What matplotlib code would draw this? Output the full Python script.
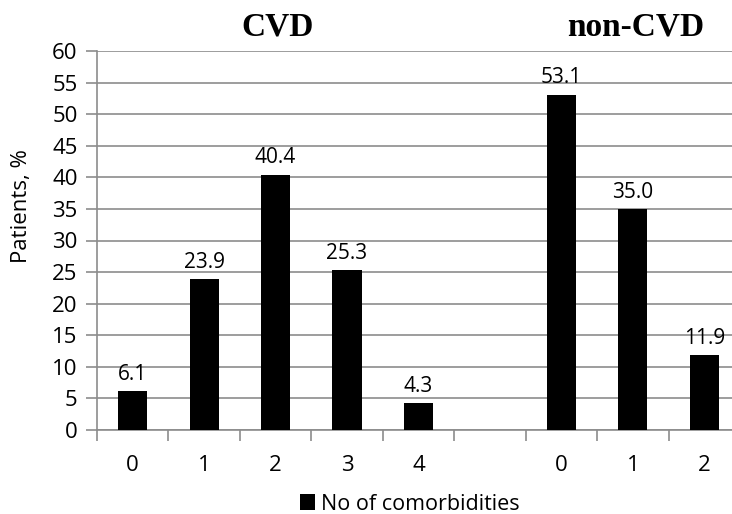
import matplotlib
matplotlib.use('Agg')
import matplotlib.pyplot as plt

# data
cvd_labels = ['0', '1', '2', '3', '4']
cvd_values = [6.1, 23.9, 40.4, 25.3, 4.3]
noncvd_labels = ['0', '1', '2']
noncvd_values = [53.1, 35.0, 11.9]

plt.rcParams['font.family'] = ['Open Sans', 'DejaVu Sans']

W, H = 732, 514
fig = plt.figure(figsize=(W / 100, H / 100), dpi=100)
# plot area runs past the right edge of the picture, as in the original
left, right, top, bottom = 97, 740, 51, 430
ax = fig.add_axes([left / W, (H - bottom) / H, (right - left) / W, (bottom - top) / H])

x_cvd = list(range(len(cvd_values)))
x_non = [len(cvd_values) + 1 + i for i in range(len(noncvd_values))]
xs = x_cvd + x_non
vals = cvd_values + noncvd_values
labels = cvd_labels + noncvd_labels

bars = ax.bar(xs, vals, width=0.41, color='black', zorder=3, label='No of comorbidities')
for x, v in zip(xs, vals):
    ax.text(x, v + 1.0, f'{v:.1f}', ha='center', va='bottom', fontsize=15, zorder=4)

ax.set_xlim(-0.5, len(xs) + 0.5)
ax.set_ylim(0, 60)
ax.set_yticks(range(0, 61, 5))
ax.tick_params(axis='y', labelsize=16, length=8, color='#8c8c8c', width=1.2, pad=6)
ax.yaxis.grid(True, color='#8c8c8c', linewidth=1.2, zorder=0)

ax.set_xticks(xs)
ax.set_xticklabels(labels)
ax.set_xticks([i - 0.5 for i in range(len(xs) + 2)], minor=True)
ax.tick_params(axis='x', which='major', length=0, labelsize=16, pad=18)
ax.tick_params(axis='x', which='minor', length=8, color='#8c8c8c', width=1.2)

for s in ['top', 'right']:
    ax.spines[s].set_visible(False)
for s in ['left', 'bottom']:
    ax.spines[s].set_color('#8c8c8c')
    ax.spines[s].set_linewidth(1.2)

fig.text(22 / W, 1 - 206 / H, 'Patients, %', rotation=90, ha='center', va='center', fontsize=16)

fig.text(278 / W, 1 - 27 / H, 'CVD', ha='center', va='center', fontsize=24,
         fontweight='bold', family='Liberation Serif')
fig.text(636 / W, 1 - 27 / H, 'non-CVD', ha='center', va='center', fontsize=24,
         fontweight='bold', family='Liberation Serif')

fig.legend(handles=[bars], loc='center', bbox_to_anchor=(410 / W, 1 - 504 / H),
           frameon=False, fontsize=15.5, handlelength=0.7, handleheight=0.7,
           handletextpad=0.3)

fig.savefig('out.png', dpi=100)
